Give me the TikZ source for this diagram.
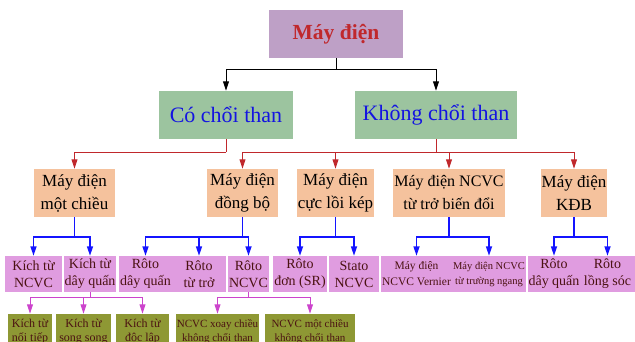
\documentclass[tikz,border=0pt]{standalone}
\usepackage{fontspec}
\setmainfont{Liberation Serif}
\usepackage{tikz}
\usetikzlibrary{arrows.meta}

\definecolor{topfill}{RGB}{190,160,198}
\definecolor{greenfill}{RGB}{156,196,159}
\definecolor{orangefill}{RGB}{245,194,157}
\definecolor{pinkfill}{RGB}{224,156,224}
\definecolor{olivefill}{RGB}{142,152,52}
\definecolor{redtxt}{RGB}{192,40,44}
\definecolor{bluetxt}{RGB}{20,20,225}
\definecolor{darktxt}{RGB}{75,18,18}
\definecolor{blueline}{RGB}{20,20,255}
\definecolor{magline}{RGB}{204,68,204}

\tikzset{
  >={Triangle[length=9.5pt,width=6pt]},
  box/.style={rectangle, align=center, inner sep=1pt},
  topbox/.style={box, fill=topfill, text=redtxt, minimum width=134pt, minimum height=48pt,
    font=\fontsize{21.5}{26}\selectfont\bfseries},
  greenbox/.style={box, fill=greenfill, text=bluetxt, minimum height=48pt,
    font=\fontsize{22}{26}\selectfont},
  orangebox/.style={box, fill=orangefill, text=black, minimum height=48pt,
    font=\fontsize{17}{23}\selectfont},
  pinkbox/.style={box, fill=pinkfill, text=darktxt, minimum height=36pt,
    font=\fontsize{14}{17}\selectfont},
  olivebox/.style={box, fill=olivefill, text=darktxt, minimum height=36pt,
    font=\fontsize{12}{14}\selectfont},
  blkline/.style={draw=black, line width=1pt},
  redline/.style={draw=redtxt, line width=1pt},
  blueconn/.style={draw=blueline, line width=1.6pt},
  magline/.style={draw=magline, line width=1pt}
}

\begin{document}
\begin{tikzpicture}[x=1pt, y=-1pt]

        \useasboundingbox (0,0) rectangle (635,342);
        \clip (0,0) rectangle (635,342);

        % top and first level
        \node[topbox] (top) at (336,34) {Máy điện};
        \node[greenbox, minimum width=134pt] (co)    at (226,115) {Có chổi than};
        \node[greenbox, minimum width=162pt] (khong) at (436,115) {Không chổi than};

        % second level
        \begin{scope}[every node/.style={orangebox}]
          \node[minimum width=81pt]  (mc)  at (74.5,193)  {Máy điện\\một chiều};
          \node[minimum width=71pt]  (db)  at (242.5,193) {Máy điện\\đồng bộ};
          \node[minimum width=73pt]  (cl)  at (335.5,193) {Máy điện\\cực lồi kép};
          \node[minimum width=106pt, font=\fontsize{16}{23}\selectfont] (tt) at (449,193) {Máy điện NCVC\\từ trở biến đổi};
          \node[minimum width=60pt]  (kdb) at (574,193)   {Máy điện\\KĐB};
        \end{scope}

        % third level
        \begin{scope}[every node/.style={pinkbox}]
          \node[minimum width=57pt] (kncvc) at (33.5,274)  {Kích từ\\NCVC};
          \node[minimum width=52pt] (kdq)   at (90,274)    {Kích từ\\dây quấn};
          \node[minimum width=49pt] (rdq)   at (145.5,274) {Rôto\\dây quấn};
          \node[minimum width=54pt] (rtt)   at (199,274)   {Rôto\\từ trở};
          \node[minimum width=41pt] (rncvc) at (248.5,274) {Rôto\\NCVC};
          \node[minimum width=54pt] (rsr)   at (300,274)   {Rôto\\đơn (SR)};
          \node[minimum width=50pt] (sncvc) at (354,274)   {Stato\\NCVC};
          \node[minimum width=69pt, font=\fontsize{11.5}{16}\selectfont] (vern) at (416.5,274) {Máy điện\\NCVC Vernier};
          \node[minimum width=70pt, font=\fontsize{10.5}{15}\selectfont] (ttn)  at (489,274)   {Máy điện NCVC\\từ trường ngang};
          \node[minimum width=50pt] (rdqb)  at (554,274)   {Rôto\\dây quấn};
          \node[minimum width=55pt] (rls)   at (607.5,274) {Rôto\\lồng sóc};
        \end{scope}

        % fourth level
        \begin{scope}[every node/.style={olivebox}]
          \node[minimum width=44pt] (knt) at (30,332)    {Kích từ\\nối tiếp};
          \node[minimum width=55pt] (kss) at (83.5,332)  {Kích từ\\song song};
          \node[minimum width=53pt] (kdl) at (142.5,332) {Kích từ\\độc lập};
          \node[minimum width=79pt, font=\fontsize{11}{14}\selectfont] (xc)  at (217.5,332) {NCVC xoay chiều\\không chổi than};
          \node[minimum width=90pt, font=\fontsize{11}{14}\selectfont] (mch) at (310,332)   {NCVC một chiều\\không chổi than};
        \end{scope}

        % connectors
        \draw[blkline] (top.south) -- ++(0,11) coordinate (j0);
        \draw[blkline,->] (j0) -| (co.north);
        \draw[blkline,->] (j0) -| (khong.north);

        \draw[redline] (co.south) -- ++(0,13) coordinate (j1);
        \draw[redline,->] (j1) -| (mc.north);
        \draw[redline] (khong.south) -- ++(0,13) coordinate (j2);
        \draw[redline,->] (j2) -| (db.north);
        \draw[redline,->] (j2) -| (cl.north);
        \draw[redline,->] (j2) -| (tt.north);
        \draw[redline,->] (j2) -| (kdb.north);

        \draw[blueconn] (mc.south) -- ++(0,20) coordinate (b1);
        \draw[blueconn,->] (b1) -| (kncvc.north);
        \draw[blueconn,->] (b1) -| (kdq.north);
        \draw[blueconn] (db.south) -- ++(0,20) coordinate (b2);
        \draw[blueconn,->] (b2) -| (rdq.north);
        \draw[blueconn,->] (b2) -| (rtt.north);
        \draw[blueconn,->] (b2) -| (rncvc.north);
        \draw[blueconn] (cl.south) -- ++(0,20) coordinate (b3);
        \draw[blueconn,->] (b3) -| (rsr.north);
        \draw[blueconn,->] (b3) -| (sncvc.north);
        \draw[blueconn] (tt.south) -- ++(0,20) coordinate (b4);
        \draw[blueconn,->] (b4) -| (vern.north);
        \draw[blueconn,->] (b4) -| (ttn.north);
        \draw[blueconn] (kdb.south) -- ++(0,20) coordinate (b5);
        \draw[blueconn,->] (b5) -| (rdqb.north);
        \draw[blueconn,->] (b5) -| (rls.north);

        \draw[magline] (kdq.south) -- ++(0,5) coordinate (m1);
        \draw[magline,->] (m1) -| (knt.north);
        \draw[magline,->] (m1) -| (kss.north);
        \draw[magline,->] (m1) -| (kdl.north);
        \draw[magline] (rncvc.south) -- ++(0,5) coordinate (m2);
        \draw[magline,->] (m2) -| (xc.north);
        \draw[magline,->] (m2) -| (mch.north);
      \end{tikzpicture}
\end{document}
